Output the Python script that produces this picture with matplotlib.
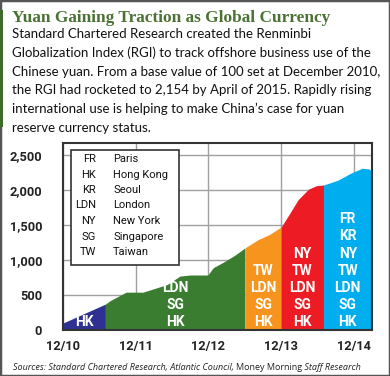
import numpy as np
import matplotlib.pyplot as plt
from matplotlib.patches import Rectangle

# Data (months after Dec 2010, RGI value)
months = np.array([0, 7.0, 7.8, 10.4, 13.2, 17.2, 19.3, 21.0, 23.9, 24.8, 26.5, 28.4,
                   30.0, 32.2, 34.0, 36.0, 37.6, 38.8, 40.5, 41.8, 43.0, 45.4, 47.5,
                   49.4, 50.5, 51.0])
rgi = np.array([100, 370, 420, 540, 540, 650, 770, 785, 785, 890, 970, 1070,
                1170, 1290, 1360, 1470, 1690, 1860, 2010, 2060, 2070, 2140, 2240,
                2310, 2300, 2270])

seg_bounds = [0, 7, 30, 36, 43, 51]
seg_colors = ['#2e3192', '#3a7d31', '#f7941d', '#ed1c24', '#00aeef']
seg_labels = [['HK'],
              ['LDN', 'SG', 'HK'],
              ['TW', 'LDN', 'SG', 'HK'],
              ['NY', 'TW', 'LDN', 'SG', 'HK'],
              ['FR', 'KR', 'NY', 'TW', 'LDN', 'SG', 'HK']]

x_ticks = [0, 12, 24, 36, 48]
x_labels = ['12/10', '12/11', '12/12', '12/13', '12/14']
y_ticks = [0, 500, 1000, 1500, 2000, 2500]

legend_abbr = ['FR', 'HK', 'KR', 'LDN', 'NY', 'SG', 'TW']
legend_name = ['Paris', 'Hong Kong', 'Seoul', 'London', 'New York', 'Singapore', 'Taiwan']

body_lines = [
    "Standard Chartered Research created the Renminbi",
    "Globalization Index (RGI) to track offshore business use of the",
    "Chinese yuan. From a base value of 100 set at December 2010,",
    "the RGI had rocketed to 2,154 by April of 2015. Rapidly rising",
    "international use is helping to make China\u2019s case for yuan",
    "reserve currency status.",
]

W, H = 390, 376
fig = plt.figure(figsize=(W / 100, H / 100), dpi=100)
fig.patch.set_facecolor('white')

def fx(px):
    return px / W

def fy(py):
    return 1 - py / H

# outer frame and green bar
fig.patches.append(Rectangle((0, 0), 1, 1, transform=fig.transFigure, fill=False,
                             edgecolor='#555555', linewidth=2.5))
fig.patches.append(Rectangle((fx(0), fy(127)), fx(3), 117 / H, transform=fig.transFigure,
                             facecolor='#3f6b2a', edgecolor='none'))

# title and intro text
fig.text(fx(12), fy(22), "Yuan Gaining Traction as Global Currency", family='Liberation Serif',
         weight='bold', fontsize=12.4, color='#4b7234', va='baseline')
for i, line in enumerate(body_lines):
    fig.text(fx(12), fy(38.3 + 18.7 * i), line, family='Lato', fontsize=9.5,
             color='#111111', va='baseline')

# chart
ax = fig.add_axes([fx(63), fy(330), fx(372 - 63), (330 - 143) / H])
ax.set_xlim(0, 51)
ax.set_ylim(0, 2670)
ax.set_axisbelow(True)
ax.grid(True, color='#a0a0a0', linewidth=1)
ax.set_xticks(x_ticks)
ax.set_xticklabels(x_labels)
ax.set_yticks(y_ticks)
ax.set_yticklabels([f"{v:,}" for v in y_ticks])
ax.tick_params(axis='y', length=0, pad=15, labelsize=9.2, colors='#222222')
ax.tick_params(axis='x', length=0, pad=7, labelsize=9.2, colors='#222222')
for lab in ax.get_xticklabels() + ax.get_yticklabels():
    lab.set_family('Roboto')
    lab.set_weight('bold')
for s in ax.spines.values():
    s.set_color('#333333')
    s.set_linewidth(1.5)
    s.set_zorder(5)

for i in range(len(seg_colors)):
    a, b = seg_bounds[i], seg_bounds[i + 1]
    mask = (months >= a) & (months <= b)
    ax.fill_between(months[mask], 0, rgi[mask], color=seg_colors[i], linewidth=0, zorder=2)
    cx = (a + b) / 2
    labs = seg_labels[i]
    for j, lab in enumerate(labs[::-1]):
        yv = 120 + j * 243
        ax.text(cx, yv, lab, color='white', fontsize=10, weight='bold', family='Roboto',
                ha='center', va='center', zorder=3)

# legend box
ax.add_patch(Rectangle((0.025, 0.35), 0.35, 0.61, transform=ax.transAxes, facecolor='white',
                       edgecolor='#333333', linewidth=1.2, zorder=4))
for i in range(len(legend_abbr)):
    ypx = 159 + i * 15.5
    fig.text(fx(96), fy(ypx), legend_abbr[i], ha='right', va='center', family='Roboto',
             fontsize=8, color='#111111', zorder=6)
    fig.text(fx(113), fy(ypx), legend_name[i], ha='left', va='center', family='Roboto',
             fontsize=8, color='#111111', zorder=6)

# source line with mixed styles
fig.canvas.draw()
r = fig.canvas.get_renderer()
pieces = [("Sources: Standard Chartered Research, Atlantic Council, ", 'italic'),
          ("Money Morning", 'normal'),
          (" Staff Research", 'italic')]
xpos = 13
for txt, style in pieces:
    t = fig.text(fx(xpos), fy(370), txt, family='Open Sans', style=style, fontsize=6.5,
                 color='#222222', va='baseline')
    bb = t.get_window_extent(renderer=r)
    xpos += bb.width

fig.savefig('out.png', dpi=100)
